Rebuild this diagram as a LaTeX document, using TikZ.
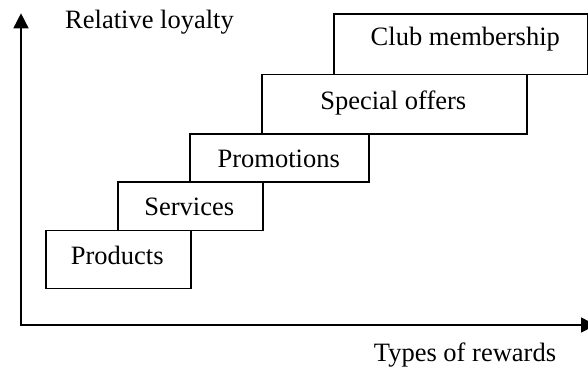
\documentclass[tikz,border=0pt]{standalone}
\usepackage{fontspec}
\setmainfont{Liberation Serif}
\usetikzlibrary{arrows.meta}
\tikzset{axistip/.tip={Triangle[length=15pt, width=15pt]}}
\begin{document}
\begin{tikzpicture}[x=1pt, y=-1pt,
  stepbox/.style={draw, line width=1.5pt, anchor=north west, inner sep=0pt},
  lbl/.style={anchor=base, inner sep=0pt, font=\fontsize{26.5}{30}\selectfont}]
\useasboundingbox (0,0) rectangle (588,373);

% axes
\coordinate (origin) at (21,325);
\coordinate (ytip) at (21,13.3);
\coordinate (xtip) at (596,325);
\draw[line width=1.5pt, axistip-axistip] (ytip) -- (origin) -- (xtip);

% staircase of rewards
\node[stepbox, minimum width=145pt, minimum height=58pt]   (products)  at (45,229.5) {};
\node[stepbox, minimum width=145pt, minimum height=48.5pt] (services)  at (117,181) {};
\node[stepbox, minimum width=179pt, minimum height=48pt]   (promos)    at (189,133) {};
\node[stepbox, minimum width=265pt, minimum height=59.5pt] (offers)    at (261,73.5) {};
\node[stepbox, minimum width=254pt, minimum height=60.5pt] (club)      at (333,13) {};

% labels
\node[lbl] (productsT) at (117.2,264)  {Products};
\node[lbl] (servicesT) at (189.2,215)  {Services};
\node[lbl] (promosT)   at (278.7,167)  {Promotions};
\node[lbl] (offersT)   at (393.3,109.7){Special offers};
\node[lbl] (clubT)     at (465.3,45.7) {Club membership};
\node[lbl] (yaxisT)    at (149.5,28)   {Relative loyalty};
\node[lbl] (xaxisT)    at (465,361.7)  {Types of rewards};
\end{tikzpicture}
\end{document}
